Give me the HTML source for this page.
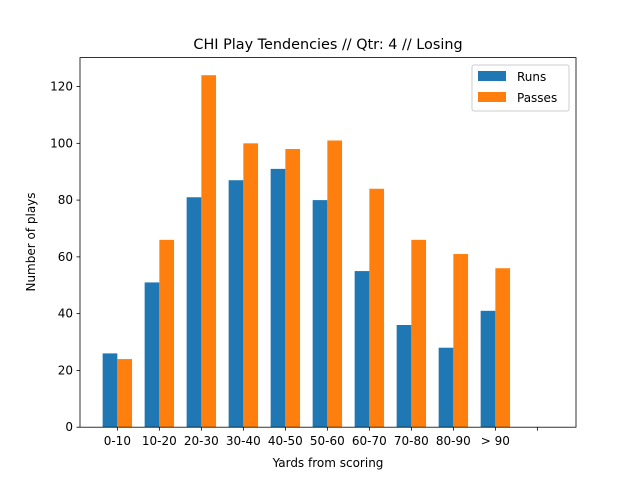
<!DOCTYPE html>
<html><head><meta charset="utf-8"><style>
body{margin:0;background:#fff;}
svg{display:block;font-family:"DejaVu Sans","Liberation Sans",sans-serif;}
</style></head><body>
<svg id="chart" width="640" height="480" xmlns="http://www.w3.org/2000/svg">
<rect width="640" height="480" fill="#fff"/>
<text x="328" y="49" font-size="14.4" text-anchor="middle">CHI Play Tendencies // Qtr: 4 // Losing</text>
<g id="bars"></g>
<g id="axes"></g>
<text x="328" y="467" font-size="12" text-anchor="middle">Yards from scoring</text>
<text transform="translate(35,242) rotate(-90)" font-size="12" text-anchor="middle">Number of plays</text>
<g>
<rect x="472" y="65" width="97" height="46" rx="2" fill="#fff" stroke="#ccc"/>
<rect x="478" y="71" width="28" height="10" fill="#1f77b4"/>
<text x="517" y="81" font-size="12">Runs</text>
<rect x="478" y="92" width="28" height="10" fill="#ff7f0e"/>
<text x="517" y="102" font-size="12">Passes</text>
</g>
</svg>
<script>
const categories=["0-10","10-20","20-30","30-40","40-50","50-60","60-70","70-80","80-90","> 90",""];
const runs=[26,51,81,87,91,80,55,36,28,41];
const passes=[24,66,124,100,98,101,84,66,61,56];
const yTicks=[0,20,40,60,80,100,120];
const L=80,R=576,T=57.6,B=427.2,xmin=-0.714,xmax=11.095,ymax=130.2,bw=0.35;
const xs=v=>L+(v-xmin)/(xmax-xmin)*(R-L);
const ys=v=>B-v/ymax*(B-T);
const NS="http://www.w3.org/2000/svg";
const bars=document.getElementById('bars'),axes=document.getElementById('axes');
function mk(tag,attrs,parent){const e=document.createElementNS(NS,tag);for(const k in attrs)e.setAttribute(k,attrs[k]);parent.appendChild(e);return e;}
runs.forEach((v,i)=>{const r=mk('rect',{x:xs(i-bw/2),y:ys(v),width:xs(bw)-xs(0),height:ys(0)-ys(v),fill:'#1f77b4'},bars);

});
passes.forEach((v,i)=>{const r=mk('rect',{x:xs(i+bw/2),y:ys(v),width:xs(bw)-xs(0),height:ys(0)-ys(v),fill:'#ff7f0e'},bars);

});
const frame=mk('rect',{x:L,y:T,width:R-L,height:B-T,fill:'none',stroke:'#000','stroke-width':0.8},axes);


yTicks.forEach(t=>{const y=ys(t);mk('line',{x1:L-3.5,x2:L,y1:y,y2:y,stroke:'#000','stroke-width':0.8},axes);
const tx=mk('text',{x:L-7,y:y+4,'font-size':12,'text-anchor':'end'},axes);tx.textContent=t;

});
categories.forEach((c,i)=>{const x=xs(i+bw/2);mk('line',{x1:x,x2:x,y1:B,y2:B+3.5,stroke:'#000','stroke-width':0.8},axes);
const tx=mk('text',{x:x,y:B+18,'font-size':12,'text-anchor':'middle'},axes);tx.textContent=c;

});
</script>
</body></html>
